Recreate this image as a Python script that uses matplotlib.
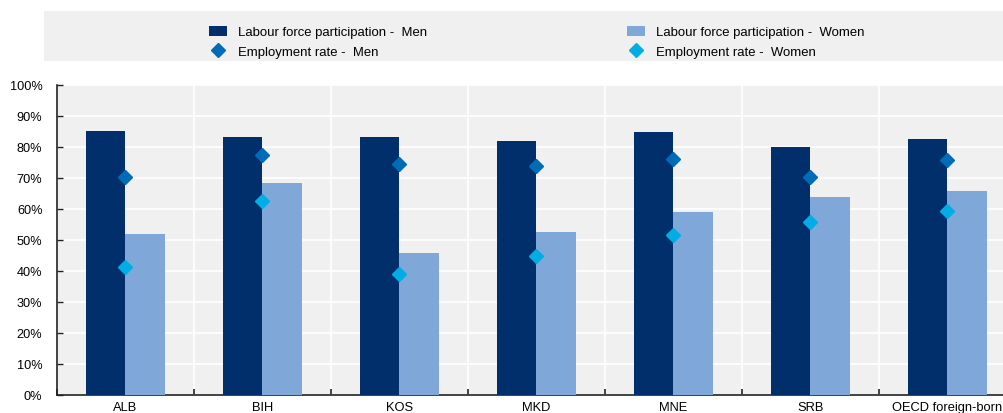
import matplotlib
matplotlib.use("Agg")
import matplotlib.pyplot as plt
from matplotlib.patches import Rectangle
from matplotlib.lines import Line2D
from matplotlib.ticker import MultipleLocator, FuncFormatter, FixedLocator
import numpy as np

plt.rcParams['font.family'] = ['Liberation Sans', 'DejaVu Sans']

categories = ["ALB", "BIH", "KOS", "MKD", "MNE", "SRB", "OECD foreign-born"]
lfp_men = [85.0, 83.3, 83.2, 81.9, 84.7, 80.1, 82.5]
lfp_women = [52.0, 68.4, 45.8, 52.5, 58.9, 63.7, 65.8]
emp_men = [70.2, 77.3, 74.5, 73.8, 76.0, 70.2, 75.8]
emp_women = [41.1, 62.6, 39.1, 44.8, 51.6, 55.9, 59.3]

C_DARK = "#002F6C"
C_LIGHT = "#7FA8D9"
C_DM = "#006BB6"
C_DW = "#00ADE4"
BG = "#F0F0F0"

fig = plt.figure(figsize=(10.04, 4.14), dpi=100)
ax = fig.add_axes([57/1004, 18.3/414, 959/1004, 309.7/414])
ax.set_facecolor(BG)

x = np.arange(len(categories))
w = 0.285
ax.bar(x - w/2, lfp_men, width=w, color=C_DARK, zorder=3)
ax.bar(x + w/2, lfp_women, width=w, color=C_LIGHT, zorder=3)
ax.plot(x, emp_men, linestyle='none', marker='D', ms=7, color=C_DM, zorder=4)
ax.plot(x, emp_women, linestyle='none', marker='D', ms=7, color=C_DW, zorder=4)

ax.set_xlim(-0.5, len(categories) - 0.5)
ax.set_ylim(0, 100)
ax.yaxis.set_major_locator(MultipleLocator(10))
ax.yaxis.set_major_formatter(FuncFormatter(lambda v, p: f"{int(v)}%"))
ax.set_xticks(x)
ax.set_xticklabels(categories)
ax.xaxis.set_minor_locator(FixedLocator(np.arange(-0.5, len(categories), 1.0)))
ax.tick_params(axis='x', which='major', length=0, pad=4.5, labelsize=9.3)
ax.tick_params(axis='x', which='minor', length=4, width=1.2, direction='in', color='#222222')
ax.tick_params(axis='y', which='major', length=4, width=1, direction='in', color='#222222',
               labelsize=9.2, pad=10.5)

ax.grid(axis='y', which='major', color='white', linewidth=1.2, zorder=1)
ax.grid(axis='x', which='minor', color='white', linewidth=1.2, zorder=1)
ax.set_axisbelow(True)
for s in ['top', 'right']:
    ax.spines[s].set_visible(False)
ax.spines['left'].set_linewidth(1.2)
ax.spines['bottom'].set_linewidth(1.2)
ax.spines['left'].set_color('#222222')
ax.spines['bottom'].set_color('#222222')

# legend background band
fig.patches.append(Rectangle((44/1004, 1 - 62/414), 1 - 44/1004, 50/414,
                             transform=fig.transFigure, facecolor=BG, edgecolor='none', zorder=0))

h_lm = Rectangle((0, 0), 1, 1, facecolor=C_DARK)
h_lw = Rectangle((0, 0), 1, 1, facecolor=C_LIGHT)
h_em = Line2D([], [], linestyle='none', marker='D', ms=7, color=C_DM)
h_ew = Line2D([], [], linestyle='none', marker='D', ms=7, color=C_DW)

common = dict(frameon=False, fontsize=9.45, handlelength=1.43, handleheight=0.85,
              handletextpad=0.85, labelspacing=0.55, loc='upper left', borderpad=0)
fig.legend([h_lm, h_em], ["Labour force participation -  Men", "Employment rate -  Men"],
           bbox_to_anchor=(202/1004, 1 - 20/414), **common)
fig.legend([h_lw, h_ew], ["Labour force participation -  Women", "Employment rate -  Women"],
           bbox_to_anchor=(620/1004, 1 - 20/414), **common)

fig.savefig("out.png", dpi=100)
